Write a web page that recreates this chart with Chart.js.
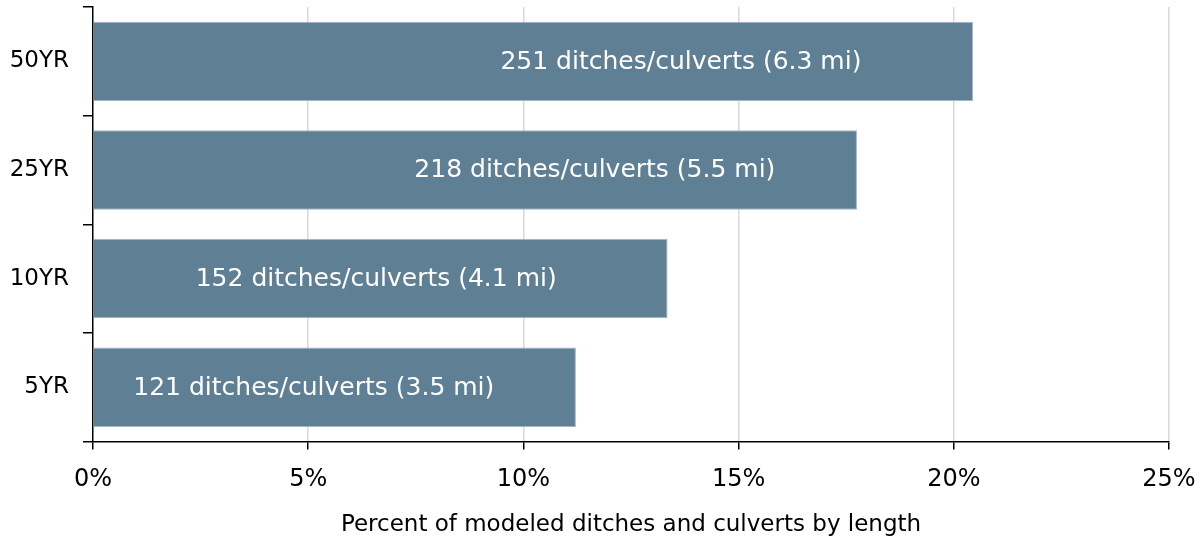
<!DOCTYPE html>
<html>
<head>
<meta charset="utf-8">
<script src="https://cdn.jsdelivr.net/npm/chart.js@4/dist/chart.umd.min.js"></script>
<style>
  html, body { margin: 0; padding: 0; background: #fff; }
  #wrap { width: 1203px; height: 541px; }
</style>
</head>
<body>
<div id="wrap"><canvas id="chart"></canvas></div>
<script>
// data
const categories = ["50YR", "25YR", "10YR", "5YR"]
const percentByLength = [20.45, 17.75, 13.35, 11.22]
const barLabels = [
    "251 ditches/culverts (6.3 mi)",
    "218 ditches/culverts (5.5 mi)",
    "152 ditches/culverts (4.1 mi)",
    "121 ditches/culverts (3.5 mi)"
]
const xTicks = [0, 5, 10, 15, 20, 25]
const axisTitle = "Percent of modeled ditches and culverts by length"

// where the text sits inside each bar (centre, in % units)
const labelCentre = [13.66, 11.66, 6.58, 5.13]

const FONT = "'DejaVu Sans', Verdana, sans-serif"

// draws the white text inside each bar
const barText = {
    id: 'barText',
    afterDatasetsDraw(chart) {
        const ctx = chart.ctx
        const meta = chart.getDatasetMeta(0)
        const xs = chart.scales.x
        ctx.save()
        ctx.font = "25px " + FONT
        ctx.fillStyle = "#ffffff"
        ctx.textAlign = "center"
        ctx.textBaseline = "middle"
        meta.data.forEach((bar, i) => {
            ctx.fillText(barLabels[i], xs.getPixelForValue(labelCentre[i]), bar.y + 1)
        })
        ctx.restore()
    }
}

const ctx = document.getElementById('chart').getContext('2d')
new Chart(ctx, {
    type: 'bar',
    data: {
        labels: categories,
        datasets: [{
            data: percentByLength,
            backgroundColor: '#5f7f94',
            borderColor: '#a3b6c4',
            borderWidth: 1,
            barPercentage: 0.73,
            categoryPercentage: 1
        }]
    },
    options: {
        indexAxis: 'y',
        responsive: true,
        maintainAspectRatio: false,
        animation: false,
        layout: { padding: { top: 7, right: 34, bottom: 2, left: 0 } },
        plugins: {
            legend: { display: false },
            tooltip: { enabled: false }
        },
        scales: {
            x: {
                min: 0,
                max: 25,
                afterBuildTicks(scale) {
                    scale.ticks = xTicks.map(v => ({ value: v }))
                },
                afterFit(scale) {
                    scale.paddingLeft = 0
                    scale.paddingRight = 0
                },
                ticks: {
                    color: '#000',
                    font: { family: FONT, size: 24 },
                    padding: 16,
                    maxRotation: 0,
                    callback: v => v + '%'
                },
                grid: {
                    color: ctx => ctx.tick && ctx.tick.value === 0 ? 'rgba(0,0,0,0)' : '#d9d9d9',
                    lineWidth: 1.5,
                    tickColor: '#000',
                    tickLength: 8,
                    drawTicks: true
                },
                border: { color: '#000', width: 1.5 },
                title: {
                    display: true,
                    text: axisTitle,
                    color: '#000',
                    font: { family: FONT, size: 23 },
                    padding: { top: 1, bottom: 0 }
                }
            },
            y: {
                afterFit(scale) {
                    scale.width = 93
                    scale.paddingTop = 0
                    scale.paddingBottom = 0
                },
                ticks: {
                    color: '#000',
                    font: { family: FONT, size: 23 },
                    padding: 14
                },
                grid: {
                    offset: true,
                    drawOnChartArea: false,
                    tickColor: '#000',
                    tickLength: 10,
                    lineWidth: 1.5
                },
                border: { color: '#000', width: 1.5 }
            }
        }
    },
    plugins: [barText]
})
</script>
</body>
</html>
